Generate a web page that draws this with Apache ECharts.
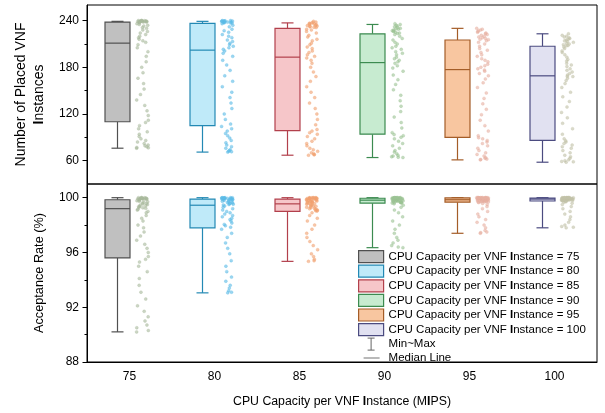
<!DOCTYPE html>
<html>
<head>
<meta charset="utf-8">
<script src="https://cdn.jsdelivr.net/npm/echarts@6/dist/echarts.min.js"></script>
<style>
  html, body { margin: 0; padding: 0; background: #fff; }
  #chart { width: 605px; height: 413px; }
</style>
</head>
<body>
<div id="chart"></div>
<script>
const categories = ['75', '80', '85', '90', '95', '100']
const seriesNames = categories.map(c => 'CPU Capacity per VNF Instance = ' + c)

// box stats: [min, Q1, median, Q3, max]
const placedBox = [
  [76, 110, 211, 238, 239],
  [71, 105, 202, 236.5, 239],
  [67, 98.5, 193, 230, 237],
  [64, 94, 186, 223, 235],
  [61, 90, 177, 215, 230],
  [58, 86, 169, 207, 223]
]
const acceptBox = [
  [90.2, 95.6, 99.2, 99.85, 100],
  [93.05, 97.8, 99.45, 99.9, 100],
  [95.35, 99.0, 99.55, 99.9, 100],
  [96.35, 99.6, 99.82, 99.96, 100],
  [97.4, 99.67, 99.85, 99.98, 100],
  [97.8, 99.76, 99.9, 99.97, 100]
]

// raw points (estimated from the jittered columns)
const placed75 = [76, 76.5, 77, 78, 79, 80, 82, 84, 86, 88, 91, 94, 97, 101, 105, 109,
  112, 118, 124, 131, 138, 145, 152, 159, 166, 173, 180, 187, 194, 200, 205, 209,
  212, 214, 216, 218, 220, 222, 224, 226, 228, 230, 231, 233, 234, 235, 236, 237,
  238, 238, 238.2, 238.4, 238.6, 238.8, 239, 239, 239, 239.2, 239.4, 239.6, 239.8, 240, 240, 240]
const placed80 = [71, 71.5, 72, 73, 74, 76, 78, 80, 83, 86, 89, 92, 95, 98, 101, 104,
  107, 113, 120, 127, 134, 141, 148, 155, 162, 169, 176, 183, 189, 194, 198, 201,
  203, 205, 207, 209, 211, 213, 215, 218, 220, 222, 225, 227, 229, 232, 234, 236,
  236.8, 237, 237.2, 237.5, 237.8, 238, 238.2, 238.5, 238.8, 239, 239, 239.3, 239.5, 239.7, 240, 240]
const placed85 = [67, 67.5, 68, 69, 70, 72, 74, 76, 79, 82, 85, 88, 91, 94, 96, 98,
  100, 106, 113, 120, 127, 134, 141, 148, 155, 162, 168, 174, 180, 185, 189, 192,
  194, 196, 199, 201, 204, 206, 209, 211, 214, 216, 219, 221, 224, 226, 228, 229,
  231, 231.5, 232, 232.5, 233, 233.5, 234, 234.5, 235, 235.5, 236, 236.5, 237, 237.5, 238, 239]
const placed90 = [64, 64.5, 65, 66, 67, 69, 71, 73, 76, 79, 82, 85, 88, 90, 92, 93.5,
  96, 102, 109, 116, 123, 130, 137, 144, 151, 158, 164, 170, 175, 179, 182, 185,
  187, 189, 191, 193, 196, 198, 200, 203, 205, 207, 210, 212, 215, 217, 220, 222,
  223.5, 224, 225, 226, 226.5, 227, 228, 229, 229.5, 230, 231, 232, 233, 234, 235, 236]
const placed95 = [61, 61.5, 62, 63, 64, 66, 68, 70, 73, 76, 79, 82, 84, 86, 88, 89.5,
  92, 98, 105, 112, 119, 126, 133, 140, 147, 154, 160, 165, 169, 172, 175, 176.5,
  178, 180, 182, 184, 187, 189, 191, 194, 196, 199, 202, 204, 207, 210, 212, 214,
  215.5, 216, 217, 218, 219, 220, 221, 222, 223, 224, 225, 226, 227, 228, 229, 230]
const placed100 = [58, 58.5, 59, 60, 61, 63, 65, 67, 70, 73, 76, 78, 80, 82, 84, 85.5,
  88, 94, 101, 108, 115, 122, 129, 136, 142, 148, 154, 159, 163, 166, 168, 168.5,
  170, 172, 174, 176, 178, 181, 183, 185, 188, 190, 193, 196, 199, 201, 204, 206,
  207.5, 208, 209, 210, 211, 212, 213, 214, 215, 216, 217, 218, 219, 220, 221, 223]

const accept75 = [90.2, 90.3, 90.5, 90.7, 91.0, 91.3, 91.7, 92.1, 92.6, 93.1, 93.6, 94.1, 94.6, 95.0, 95.3, 95.5,
  95.7, 96.0, 96.3, 96.6, 96.9, 97.2, 97.5, 97.8, 98.0, 98.3, 98.5, 98.7, 98.9, 99.0, 99.1, 99.15,
  99.22, 99.26, 99.3, 99.34, 99.38, 99.42, 99.46, 99.5, 99.54, 99.58, 99.62, 99.66, 99.7, 99.74, 99.78, 99.82,
  99.86, 99.87, 99.88, 99.9, 99.91, 99.92, 99.93, 99.94, 99.95, 99.96, 99.97, 99.98, 99.99, 100, 100, 100]
const accept80 = [93.05, 93.1, 93.2, 93.4, 93.6, 93.9, 94.2, 94.6, 95.0, 95.4, 95.9, 96.3, 96.7, 97.1, 97.4, 97.7,
  97.85, 97.95, 98.05, 98.15, 98.3, 98.4, 98.5, 98.6, 98.7, 98.8, 98.9, 99.0, 99.1, 99.2, 99.3, 99.4,
  99.47, 99.5, 99.53, 99.56, 99.59, 99.62, 99.65, 99.68, 99.71, 99.74, 99.77, 99.8, 99.83, 99.85, 99.87, 99.89,
  99.9, 99.91, 99.92, 99.93, 99.94, 99.95, 99.96, 99.96, 99.97, 99.98, 99.98, 99.99, 99.99, 100, 100, 100]
const accept85 = [95.35, 95.4, 95.5, 95.7, 95.9, 96.2, 96.5, 96.8, 97.1, 97.4, 97.7, 98.0, 98.3, 98.5, 98.7, 98.9,
  99.02, 99.05, 99.08, 99.12, 99.15, 99.19, 99.22, 99.26, 99.3, 99.33, 99.37, 99.4, 99.44, 99.47, 99.5, 99.53,
  99.57, 99.6, 99.62, 99.64, 99.66, 99.68, 99.7, 99.72, 99.74, 99.76, 99.78, 99.8, 99.82, 99.84, 99.86, 99.88,
  99.9, 99.91, 99.92, 99.93, 99.94, 99.95, 99.96, 99.96, 99.97, 99.98, 99.98, 99.99, 99.99, 100, 100, 100]
const accept90 = [96.35, 96.4, 96.5, 96.7, 96.9, 97.1, 97.4, 97.7, 98.0, 98.3, 98.6, 98.9, 99.1, 99.3, 99.45, 99.55,
  99.61, 99.62, 99.63, 99.64, 99.66, 99.67, 99.68, 99.7, 99.71, 99.73, 99.74, 99.76, 99.77, 99.79, 99.8, 99.81,
  99.83, 99.84, 99.85, 99.86, 99.87, 99.88, 99.89, 99.9, 99.91, 99.91, 99.92, 99.93, 99.93, 99.94, 99.95, 99.95,
  99.96, 99.96, 99.97, 99.97, 99.97, 99.98, 99.98, 99.98, 99.99, 99.99, 99.99, 100, 100, 100, 100, 100]
const accept95 = [97.4, 97.45, 97.5, 97.6, 97.8, 98.0, 98.2, 98.4, 98.6, 98.8, 99.0, 99.2, 99.35, 99.5, 99.58, 99.64,
  99.68, 99.69, 99.7, 99.71, 99.72, 99.74, 99.75, 99.76, 99.77, 99.78, 99.79, 99.8, 99.81, 99.82, 99.83, 99.84,
  99.86, 99.87, 99.88, 99.89, 99.9, 99.91, 99.92, 99.92, 99.93, 99.94, 99.95, 99.95, 99.96, 99.96, 99.97, 99.97,
  99.98, 99.98, 99.98, 99.99, 99.99, 99.99, 99.99, 100, 100, 100, 100, 100, 100, 100, 100, 100]
const accept100 = [97.8, 97.85, 97.9, 98.0, 98.2, 98.4, 98.6, 98.8, 99.0, 99.2, 99.35, 99.5, 99.6, 99.67, 99.71, 99.74,
  99.77, 99.78, 99.79, 99.8, 99.81, 99.82, 99.83, 99.84, 99.85, 99.86, 99.86, 99.87, 99.88, 99.88, 99.89, 99.9,
  99.91, 99.91, 99.92, 99.92, 99.93, 99.93, 99.94, 99.94, 99.95, 99.95, 99.95, 99.96, 99.96, 99.96, 99.97, 99.97,
  99.97, 99.98, 99.98, 99.98, 99.98, 99.99, 99.99, 99.99, 99.99, 100, 100, 100, 100, 100, 100, 100]

const placedPoints = [placed75, placed80, placed85, placed90, placed95, placed100]
const acceptPoints = [accept75, accept80, accept85, accept90, accept95, accept100]

const fills = ['#c0c0c0', '#bfeaf9', '#f6c6c9', '#c7ebd0', '#f8c6a0', '#e1e1f1']
const borders = ['#505050', '#2389b4', '#b2404c', '#3c8b50', '#a45d28', '#4b4b80']
const dots = ['#a9b99c', '#5bbbe6', '#f0a070', '#9cc394', '#e6b0a2', '#c2c2a8']

const FONT = 'Liberation Sans, Arial, sans-serif'
const BOX_SHIFT = -12
const BOX_HALF = 12.5
const CAP_HALF = 6
const DOT_SHIFT = 13
const DOT_SPREAD = 12

function boxRenderer (g) {
  return function (params, api) {
    const c = api.value(0)
    const y = i => api.coord([c, api.value(i)])[1]
    const cx = api.coord([c, api.value(1)])[0] + BOX_SHIFT
    const yMin = y(1), yQ1 = y(2), yMed = y(3), yQ3 = y(4), yMax = y(5)
    const line = { stroke: borders[g], lineWidth: 1.2 }
    return {
      type: 'group',
      children: [
        { type: 'line', shape: { x1: cx, y1: yMax, x2: cx, y2: yQ3 }, style: line },
        { type: 'line', shape: { x1: cx, y1: yQ1, x2: cx, y2: yMin }, style: line },
        { type: 'line', shape: { x1: cx - CAP_HALF, y1: yMax, x2: cx + CAP_HALF, y2: yMax }, style: line },
        { type: 'line', shape: { x1: cx - CAP_HALF, y1: yMin, x2: cx + CAP_HALF, y2: yMin }, style: line },
        { type: 'rect', shape: { x: cx - BOX_HALF, y: yQ3, width: BOX_HALF * 2, height: yQ1 - yQ3 },
          style: { fill: fills[g], stroke: borders[g], lineWidth: 1.2 } },
        { type: 'line', shape: { x1: cx - BOX_HALF, y1: yMed, x2: cx + BOX_HALF, y2: yMed }, style: line }
      ]
    }
  }
}

// horizontal spread of a point inside its column (display only)
function jitterOf (i) {
  const s = Math.sin(i * 12.9898 + 4.1414) * 43758.5453
  return s - Math.floor(s) - 0.5
}

function dotRenderer (g) {
  return function (params, api) {
    const p = api.coord([api.value(0), api.value(1)])
    return {
      type: 'circle',
      shape: { cx: p[0] + DOT_SHIFT + jitterOf(params.dataIndex + g * 97) * DOT_SPREAD, cy: p[1], r: 1.5 },
      style: { fill: dots[g], opacity: 0.6, stroke: dots[g], lineWidth: 0.5 }
    }
  }
}

const series = []
categories.forEach((cat, g) => {
  series.push({
    type: 'custom', name: seriesNames[g] + ' pts', xAxisIndex: 1, yAxisIndex: 2,
    renderItem: dotRenderer(g), data: acceptPoints[g].map(v => [g, v]), z: 2
  })
  series.push({
    type: 'custom', name: seriesNames[g] + ' pts', xAxisIndex: 0, yAxisIndex: 0,
    renderItem: dotRenderer(g), data: placedPoints[g].map(v => [g, v]), z: 2
  })
  series.push({
    type: 'custom', name: seriesNames[g], xAxisIndex: 0, yAxisIndex: 0,
    renderItem: boxRenderer(g), data: [[g].concat(placedBox[g])], z: 3
  })
  series.push({
    type: 'custom', name: seriesNames[g], xAxisIndex: 1, yAxisIndex: 2,
    renderItem: boxRenderer(g), data: [[g].concat(acceptBox[g])], z: 3
  })
})
series.push({ type: 'custom', name: 'Min~Max', renderItem: () => null, data: [] })
series.push({ type: 'custom', name: 'Median Line', renderItem: () => null, data: [] })

const labelStyle = { fontFamily: FONT, fontSize: 12, color: '#000' }

function valueAxis (grid, min, max, major, minor, name, gap, nameSize) {
  return [{
    gridIndex: grid, type: 'value', position: 'left', min, max,
    name, nameLocation: 'middle', nameGap: gap,
    nameTextStyle: { fontFamily: FONT, fontSize: nameSize, color: '#000', lineHeight: 18,
      rich: { b: { fontWeight: 'bold', fontSize: nameSize, lineHeight: 18, fontFamily: FONT, color: '#000' } } },
    axisLine: { show: true, lineStyle: { color: '#000', width: 1 } },
    axisTick: { show: true, length: 4.5, customValues: major, lineStyle: { color: '#000' } },
    axisLabel: Object.assign({ customValues: major, margin: 8 }, labelStyle),
    splitLine: { show: false }
  }, {
    gridIndex: grid, type: 'value', position: 'left', min, max,
    axisLine: { show: false },
    axisTick: { show: true, length: 2.5, customValues: minor, lineStyle: { color: '#000' } },
    axisLabel: { show: false },
    splitLine: { show: false }
  }]
}

const chart = echarts.init(document.getElementById('chart'), null, { renderer: 'canvas' })
chart.setOption({
  animation: false,
  grid: [
    { left: 87, right: 8, top: 5, height: 179, show: true, borderColor: '#000', borderWidth: 1, outerBoundsMode: 'none' },
    { left: 87, right: 8, top: 184, height: 178, show: true, borderColor: '#000', borderWidth: 1, outerBoundsMode: 'none' }
  ],
  xAxis: [
    { gridIndex: 0, type: 'category', data: categories,
      axisLine: { show: false }, axisTick: { show: false }, axisLabel: { show: false }, splitLine: { show: false } },
    { gridIndex: 1, type: 'category', data: categories,
      name: 'CPU Capacity per VNF {b|I}nstance (M{b|I}PS)', nameLocation: 'middle', nameGap: 34,
      nameTextStyle: { fontFamily: FONT, fontSize: 12.3, color: '#000',
        rich: { b: { fontWeight: 'bold', fontSize: 12.3, fontFamily: FONT, color: '#000' } } },
      axisLine: { lineStyle: { color: '#000' } },
      axisTick: { alignWithLabel: true, length: 4, lineStyle: { color: '#000' } },
      axisLabel: Object.assign({ margin: 9 }, labelStyle),
      splitLine: { show: false } }
  ],
  yAxis: [
    ...valueAxis(0, 30, 260, [60, 120, 180, 240], [90, 150, 210],
      'Number of Placed VNF\n{b|I}nstances', 37.5, 14),
    ...valueAxis(1, 88, 101, [88, 92, 96, 100], [90, 94, 98],
      'Acceptance Rate (%)', 38, 12.7)
  ],
  legend: {
    orient: 'vertical', left: 358, top: 250, padding: 0,
    itemWidth: 25, itemHeight: 12, itemGap: 1.4, selectedMode: false,
    textStyle: { fontFamily: FONT, fontSize: 11.5, color: '#000',
      rich: { b: { fontWeight: 'bold', fontSize: 11.5, fontFamily: FONT, color: '#000' } } },
    formatter: n => n.replace('Instance', '{b|I}nstance'),
    data: seriesNames.map((n, i) => ({
      name: n, icon: 'rect',
      itemStyle: { color: fills[i], borderColor: borders[i], borderWidth: 1.2 }
    })).concat([
      { name: 'Min~Max', icon: 'path://M0,0H7M3.5,0V12M0,12H7',
        itemStyle: { color: 'rgba(0,0,0,0)', borderColor: '#666', borderWidth: 1 } },
      { name: 'Median Line', icon: 'path://M0,0M25,12M5,5.4H21V6.6H5Z',
        itemStyle: { color: '#8a8a8a', borderWidth: 0 } }
    ])
  },
  series
})
</script>
</body>
</html>
